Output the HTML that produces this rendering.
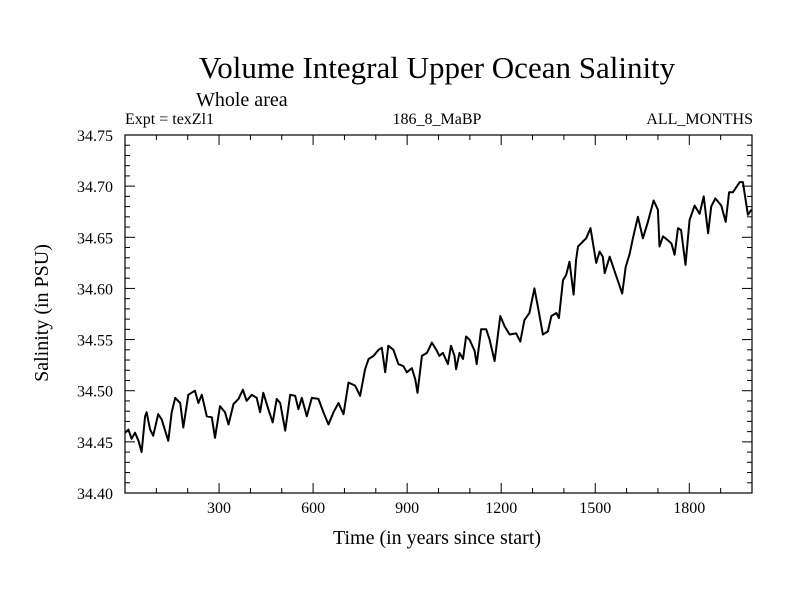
<!DOCTYPE html>
<html><head><meta charset="utf-8"><style>
body{margin:0;background:#fff}
svg text{font-family:"Liberation Serif",serif;fill:#000}
</style></head><body>
<svg id="chart" width="800" height="600" xmlns="http://www.w3.org/2000/svg">
<rect width="800" height="600" fill="#fff"/>
<text x="437" y="78" font-size="31" text-anchor="middle">Volume Integral Upper Ocean Salinity</text>
<text x="196" y="106" font-size="20">Whole area</text>
<text x="125" y="124" font-size="16">Expt = texZl1</text>
<text x="437" y="124" font-size="16" text-anchor="middle">186_8_MaBP</text>
<text x="753" y="124" font-size="16" text-anchor="end">ALL_MONTHS</text>
<text x="437" y="544" font-size="20" text-anchor="middle">Time (in years since start)</text>
<text transform="translate(48,313) rotate(-90)" font-size="20" text-anchor="middle">Salinity (in PSU)</text>
<g id="axes"></g>
<path id="series" fill="none" stroke="#000" stroke-width="2" stroke-linejoin="round"/>
<rect x="125" y="135" width="627" height="358" fill="none" stroke="#000" stroke-width="1.2"/>
</svg>
<script>
const years=[0,11,21,32,43,53,64,69,80,90,106,117,128,138,149,160,176,186,202,223,234,245,261,277,287,303,319,330,346,362,376,388,404,420,431,441,457,471,484,495,511,527,543,553,564,580,596,617,633,649,665,681,697,713,734,750,766,777,793,809,819,830,840,856,872,888,899,915,926,933,947,963,979,993,1003,1014,1030,1040,1051,1056,1067,1078,1088,1099,1115,1122,1136,1152,1163,1179,1197,1211,1227,1248,1261,1274,1290,1306,1317,1333,1349,1360,1376,1384,1397,1407,1418,1431,1439,1445,1461,1471,1485,1503,1514,1524,1530,1546,1567,1586,1597,1610,1620,1636,1652,1668,1686,1700,1705,1716,1732,1743,1753,1764,1774,1788,1801,1817,1833,1846,1860,1870,1883,1902,1916,1927,1939,1950,1961,1971,1987,1998];
const salinity=[34.459,34.462,34.453,34.459,34.451,34.440,34.475,34.479,34.462,34.456,34.477,34.472,34.461,34.451,34.479,34.493,34.488,34.464,34.496,34.500,34.488,34.496,34.475,34.474,34.454,34.485,34.479,34.467,34.487,34.492,34.501,34.490,34.496,34.493,34.479,34.498,34.482,34.469,34.492,34.488,34.461,34.496,34.495,34.482,34.493,34.475,34.493,34.492,34.479,34.467,34.479,34.488,34.477,34.508,34.505,34.495,34.521,34.531,34.534,34.540,34.542,34.518,34.544,34.540,34.526,34.524,34.518,34.522,34.511,34.498,34.534,34.537,34.547,34.540,34.534,34.537,34.526,34.544,34.534,34.521,34.537,34.531,34.553,34.550,34.539,34.526,34.560,34.560,34.550,34.529,34.573,34.563,34.555,34.556,34.548,34.569,34.576,34.600,34.582,34.555,34.558,34.573,34.576,34.571,34.608,34.613,34.626,34.594,34.628,34.641,34.646,34.649,34.659,34.625,34.636,34.631,34.615,34.631,34.612,34.595,34.621,34.634,34.649,34.670,34.649,34.665,34.686,34.677,34.641,34.651,34.647,34.644,34.633,34.659,34.657,34.623,34.667,34.681,34.673,34.690,34.654,34.680,34.688,34.681,34.665,34.694,34.694,34.699,34.704,34.704,34.672,34.677];
const xTickLabels=["300","600","900","1200","1500","1800"];
const yTickLabels=["34.40","34.45","34.50","34.55","34.60","34.65","34.70","34.75"];
const L=125,R=752,T=135,B=493,X0=0,X1=2000,Y0=34.40,Y1=34.75;
const sx=v=>L+(v-X0)/(X1-X0)*(R-L);
const sy=v=>B-(v-Y0)/(Y1-Y0)*(B-T);
const NS="http://www.w3.org/2000/svg";
const ax=document.getElementById('axes');
function ln(x1,y1,x2,y2){const l=document.createElementNS(NS,'line');l.setAttribute('x1',x1);l.setAttribute('y1',y1);l.setAttribute('x2',x2);l.setAttribute('y2',y2);l.setAttribute('stroke','#000');l.setAttribute('stroke-width','1');


ax.appendChild(l);}
function tx(x,y,s,anchor,name){const t=document.createElementNS(NS,'text');t.setAttribute('x',x);t.setAttribute('y',y);t.setAttribute('font-size','16');t.setAttribute('text-anchor',anchor);t.textContent=s;


ax.appendChild(t);}
for(let v=100;v<X1;v+=100){const x=sx(v);const major=v%300===0;const len=major?10:5;ln(x,B,x,B-len);ln(x,T,x,T+len);}
xTickLabels.forEach(s=>tx(sx(+s),513,s,'middle','x-tick-label'));
for(let i=1;i<35;i++){const v=Y0+i*0.01;const y=sy(v);const major=i%5===0;const len=major?10:5;ln(L,y,L+len,y);ln(R,y,R-len,y);}
yTickLabels.forEach(s=>tx(113,sy(+s)+6,s,'end','y-tick-label'));
let d='';years.forEach((yr,i)=>{d+=(i?'L':'M')+sx(yr).toFixed(1)+','+sy(salinity[i]).toFixed(1);});
document.getElementById('series').setAttribute('d',d);
</script>
</body></html>
